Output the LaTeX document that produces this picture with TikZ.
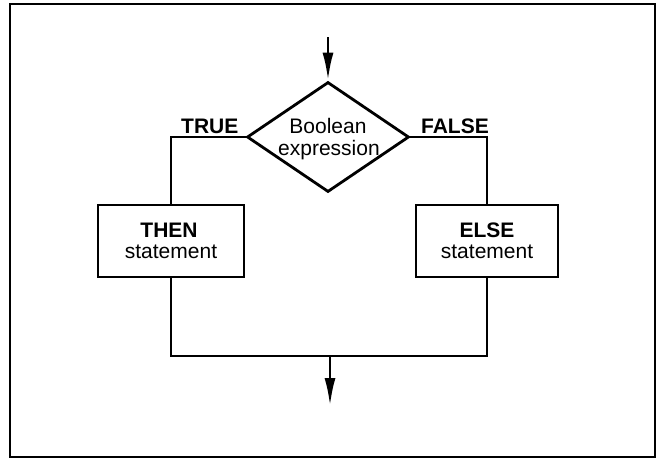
\documentclass[tikz,border=0pt]{standalone}
\usepackage{fontspec}
\setmainfont{Liberation Sans}
\usetikzlibrary{shapes.geometric,arrows.meta}
\begin{document}
\begin{tikzpicture}[x=1pt,y=-1pt,
  line/.style={line width=2.8pt,line join=miter},
  txt/.style={font=\fontsize{21}{23}\selectfont,inner sep=0pt},
  btxt/.style={font=\fontsize{21}{23}\selectfont\bfseries,inner sep=0pt},
  dia/.style={draw,line width=2.8pt,shape=diamond,inner sep=0pt,minimum width=162pt,minimum height=110pt},
  stbox/.style={draw,line width=2.8pt,minimum height=72pt,inner sep=0pt},
  arr/.style={line,-{Latex[length=28pt,width=11pt]}}]
\useasboundingbox (0,0) rectangle (660,459);
\node[draw,line width=2.8pt,minimum width=645pt,minimum height=453pt,inner sep=0pt] (frame) at (332.5,230.5) {};
\coordinate (start) at (328,37);
\node[dia] (d) at (328,137) {};
\node[txt,anchor=base] (t1) at (328,133) {Boolean};
\node[txt,anchor=base] (t2) at (329,155) {expression};
\node[btxt,anchor=base west] (tt) at (181,133) {TRUE};
\node[btxt,anchor=base east] (tf) at (489,133) {FALSE};
\node[stbox,minimum width=146pt] (then) at (171,241) {};
\node[btxt,anchor=base] (th1) at (169,237) {THEN};
\node[txt,anchor=base] (th2) at (171,258) {statement};
\node[stbox,minimum width=142pt] (else) at (487,241) {};
\node[btxt,anchor=base] (el1) at (487,237) {ELSE};
\node[txt,anchor=base] (el2) at (487,258) {statement};
\coordinate (join) at (330,356);
\coordinate (end) at (330,406);
\draw[arr] (start) -- (d.north);
\draw[line] (d.west) -| (then.north);
\draw[line] (d.east) -| (else.north);
\draw[line] (then.south) |- (join) -| (else.south);
\draw[arr] (join) -- (end);
\end{tikzpicture}
\end{document}
